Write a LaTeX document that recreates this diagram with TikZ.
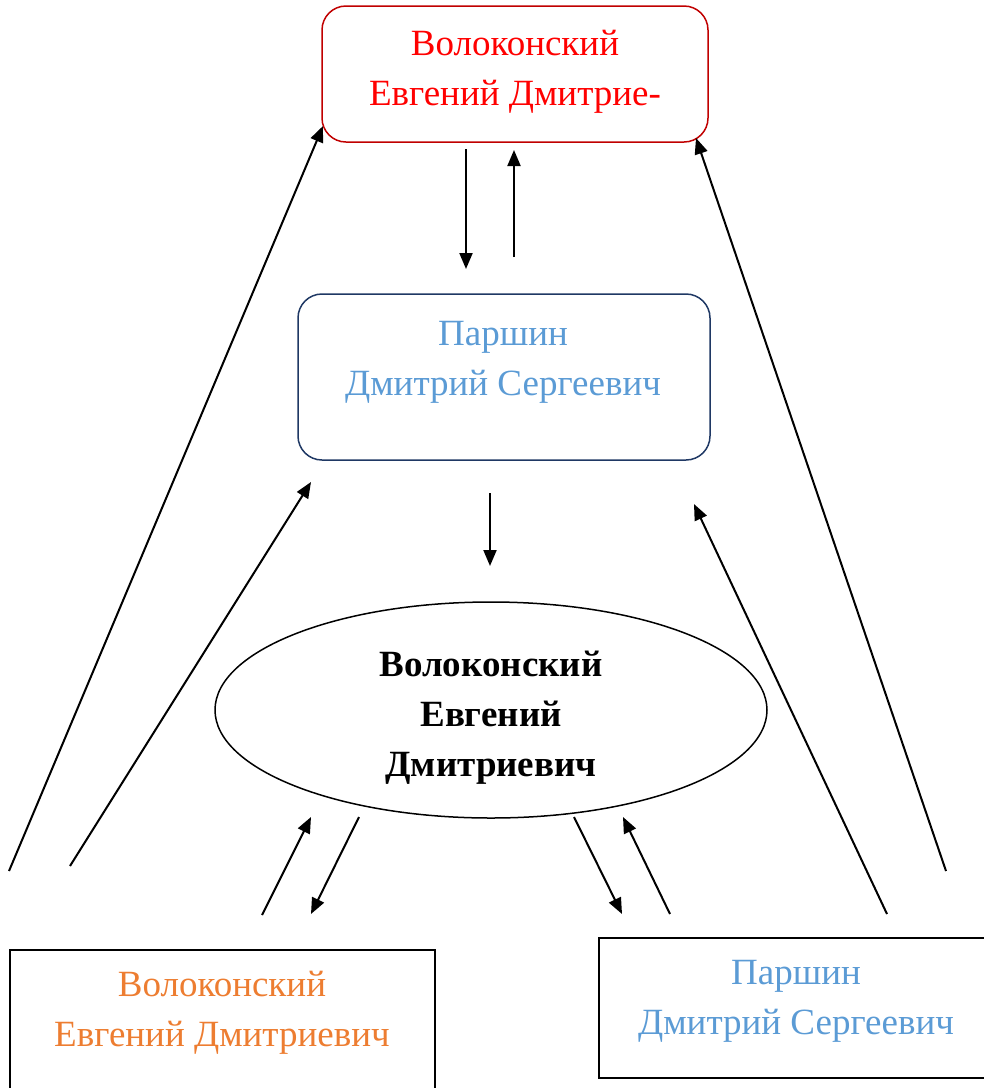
\documentclass[tikz,border=0pt]{standalone}
\usepackage{fontspec}
\setmainfont{Liberation Serif}
\usetikzlibrary{shapes.geometric,arrows.meta}
\definecolor{boxred}{HTML}{C00000}
\definecolor{txtred}{HTML}{FF0000}
\definecolor{navy}{HTML}{1F3864}
\definecolor{skyblue}{HTML}{5B9BD5}
\definecolor{orangetxt}{HTML}{ED7D31}
\tikzset{
  roundbox/.style={draw, rounded corners=24pt, line width=1.5pt, inner sep=0pt},
  plainbox/.style={draw, line width=1.5pt, inner sep=0pt},
  label text/.style={align=center, font=\fontsize{37}{50}\selectfont, inner sep=0pt},
  conn/.style={line width=2pt, -{Triangle[length=16pt,width=13pt]}},
}
\begin{document}
\begin{tikzpicture}[x=1pt,y=-1pt]
\useasboundingbox (0,0) rectangle (984,1088);
% boxes
\node[roundbox, draw=boxred, minimum width=386pt, minimum height=136pt] (top) at (515,74) {};
\node[label text, text=txtred] (toptext) at (515,72) {Волоконский\\Евгений Дмитрие-};
\node[roundbox, draw=navy, minimum width=412pt, minimum height=166pt] (mid) at (504,377) {};
\node[label text, text=skyblue] (midtext) at (503,362) {Паршин\\Дмитрий Сергеевич};
\node[ellipse, draw, line width=1.5pt, minimum width=552pt, minimum height=216pt, inner sep=0pt] (ell) at (491,710) {};
\node[label text, font=\fontsize{37}{50}\selectfont\bfseries] (elltext) at (491,718) {Волоконский\\Евгений\\Дмитриевич};
\node[plainbox, minimum width=425pt, minimum height=160pt] (bl) at (222.5,1030) {};
\node[label text, text=orangetxt] (bltext) at (222,1013) {Волоконский\\Евгений Дмитриевич};
\node[plainbox, minimum width=400pt, minimum height=140pt] (br) at (799,1008) {};
\node[label text, text=skyblue] (brtext) at (796,1001) {Паршин\\Дмитрий Сергеевич};
% coordinates of arrow ends
\coordinate (a1s) at (9,871);   \coordinate (a1e) at (323,126);
\coordinate (a2s) at (70,866);  \coordinate (a2e) at (311,482);
\coordinate (a3s) at (946,871); \coordinate (a3e) at (696,138);
\coordinate (a4s) at (887,914); \coordinate (a4e) at (694,504);
\coordinate (a5s) at (466,149); \coordinate (a5e) at (466,269);
\coordinate (a6s) at (514,257); \coordinate (a6e) at (514,150);
\coordinate (a7s) at (490,493); \coordinate (a7e) at (490,566);
\coordinate (a8s) at (262,915); \coordinate (a8e) at (311,817);
\coordinate (a9s) at (359,817); \coordinate (a9e) at (311,914);
\coordinate (a10s) at (574,817); \coordinate (a10e) at (622,914);
\coordinate (a11s) at (670,914); \coordinate (a11e) at (623,817);
\foreach \i in {1,...,11} {\draw[conn] (a\i s) -- (a\i e);}
\end{tikzpicture}
\end{document}
